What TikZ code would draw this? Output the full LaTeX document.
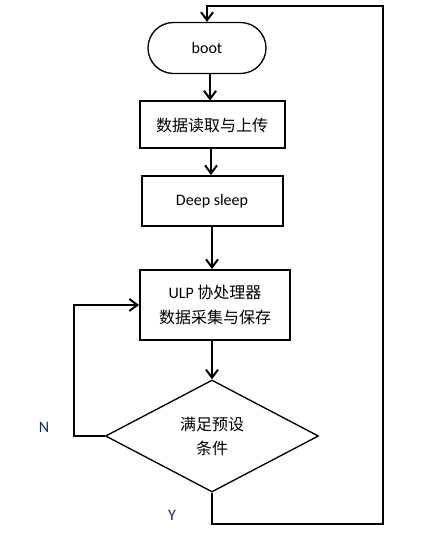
\documentclass[tikz,border=0pt]{standalone}
\usepackage{fontspec}
\setmainfont{Carlito}
\newfontfamily\cjk{Noto Sans CJK SC}
\usetikzlibrary{shapes.misc,shapes.geometric,arrows.meta}
\definecolor{labelblue}{RGB}{20,40,100}
\tikzset{
  procbox/.style={draw,line width=1.5pt,align=center,inner sep=0pt,font=\fontsize{12}{19}\selectfont},
  flow/.style={line width=1.5pt,-{Straight Barb[length=6pt,width=9pt]}},
  branch/.style={text=labelblue,font=\fontsize{12}{14}\selectfont},
}
\begin{document}
\begin{tikzpicture}[x=0.75pt,y=-0.75pt]
\useasboundingbox (0,0) rectangle (443,534);
\node[procbox,rounded rectangle,line width=1pt,minimum width=88.5pt,minimum height=38.25pt] (boot) at (207,48) {boot};
\node[procbox,minimum width=108.75pt,minimum height=35.25pt] (read) at (212,125) {\cjk 数据读取与上传};
\node[procbox,minimum width=105.75pt,minimum height=37.5pt] (sleep) at (212,201) {Deep sleep};
\node[procbox,minimum width=112.5pt,minimum height=52.5pt] (ulp) at (215,305) {ULP {\cjk 协处理器}\\{\cjk 数据采集与保存}};
\node[procbox,diamond,aspect=2,line width=1pt,minimum width=159.75pt,minimum height=84pt,font=\fontsize{12}{18}\selectfont] (cond) at (212,436) {\cjk 满足预设\\\cjk 条件};
\node[branch] (no) at (44,427) {N};
\node[branch] (yes) at (172,515) {Y};
% main flow
\draw[flow] (boot.south -| 210,0) -- (read.north -| 210,0);
\draw[flow] (read.south -| 211,0) -- (sleep.north -| 211,0);
\draw[flow] (sleep.south -| 212,0) -- (ulp.north -| 212,0);
\draw[flow] (ulp.south -| cond.north) -- (cond.north);
% loops
\draw[flow] (cond.west) -- ++(-31,0) |- (ulp.west);
\draw[flow] (cond.south) -- ++(0,31) -| (383,6) -| (boot.north);
\end{tikzpicture}
\end{document}
